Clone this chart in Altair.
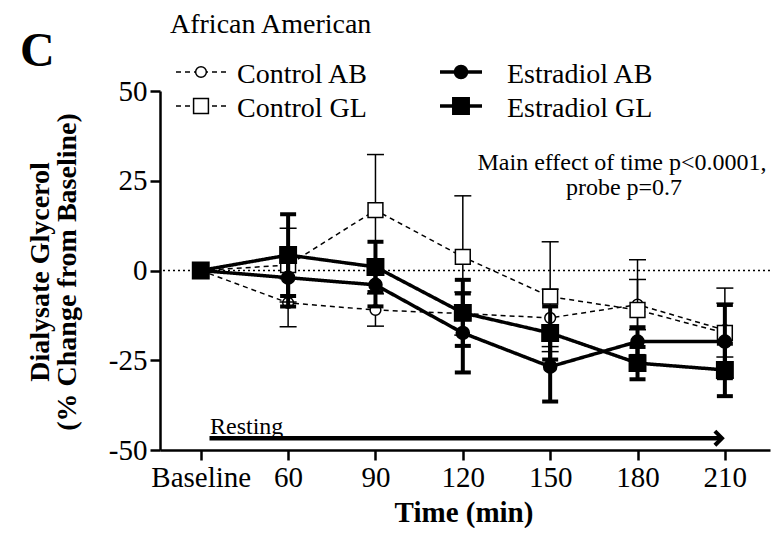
import altair as alt
import pandas as pd

FONT = "Liberation Serif"

# ---- data ----
times = [30, 60, 90, 120, 150, 180, 210]   # 30 == "Baseline"
series = ["Control AB", "Control GL", "Estradiol AB", "Estradiol GL"]

control_ab_mean = [0, -9, -11, -12, -13.2, -9.5, -16.6]
control_ab_err = [0, 6.7, 4.5, 6, 8, 7, 7.5]
control_gl_mean = [0, 1.5, 16.8, 3.8, -7.3, -11, -17.4]
control_gl_err = [0, 10.3, 15.5, 17, 15.3, 14, 12.5]
estradiol_ab_mean = [0, -2, -4, -17.4, -26.8, -19.8, -19.8]
estradiol_ab_err = [0, 8, 6, 11, 9.7, 4, 10.2]
estradiol_gl_mean = [0, 4.3, 1, -11.8, -17.4, -25.8, -27.7]
estradiol_gl_err = [0, 11.4, 7, 9.2, 7.4, 4.5, 7.3]

y_ticks = [-50, -25, 0, 25, 50]
arrow_span = [33, 208.5]
arrow_level = -46.7

means = [control_ab_mean, control_gl_mean, estradiol_ab_mean, estradiol_gl_mean]
errs = [control_ab_err, control_gl_err, estradiol_ab_err, estradiol_gl_err]

styles = {
    "Control AB": dict(shape="circle", size=115, fill="white", lw=1.5, dash=[5, 4], bw=1.5, capw=17, capt=1.5),
    "Control GL": dict(shape="square", size=220, fill="white", lw=1.5, dash=[5, 4], bw=1.5, capw=17, capt=1.5),
    "Estradiol AB": dict(shape="circle", size=170, fill="black", lw=3.5, dash=[1, 0], bw=4, capw=16, capt=4),
    "Estradiol GL": dict(shape="square", size=270, fill="black", lw=3.5, dash=[1, 0], bw=4, capw=16, capt=4),
}

xsc = alt.Scale(domain=[16, 225.5], nice=False, zero=False)
ysc = alt.Scale(domain=[-50, 50], nice=False, zero=False)
xax = alt.Axis(values=times, labelExpr="datum.value == 30 ? 'Baseline' : '' + datum.value",
               title=None, grid=False, tickSize=10, labelPadding=3, labelFontSize=29)
yax = alt.Axis(values=y_ticks, labelExpr="'' + datum.value", title=None, grid=False,
               tickSize=10, labelPadding=3, labelFontSize=29)

one = pd.DataFrame({"a": [0]})


def XE(f):
    return alt.X(f, type="quantitative", scale=xsc, axis=xax, title=None)


def YE(f):
    return alt.Y(f, type="quantitative", scale=ysc, axis=yax, title=None)


def series_layers(name, m, e):
    st = styles[name]
    df = pd.DataFrame({"t": times, "m": m, "e": e})
    df["lo"] = df["m"] - df["e"]
    df["hi"] = df["m"] + df["e"]
    dfe = df[df["e"] > 0]
    bars = alt.Chart(dfe).mark_rule(color="black", strokeWidth=st["bw"]).encode(
        x=XE("t"), y=YE("lo"), y2="hi:Q")
    cap_lo = alt.Chart(dfe).mark_tick(color="black", orient="horizontal", size=st["capw"],
                                      thickness=st["capt"], opacity=1).encode(x=XE("t"), y=YE("lo"))
    cap_hi = alt.Chart(dfe).mark_tick(color="black", orient="horizontal", size=st["capw"],
                                      thickness=st["capt"], opacity=1).encode(x=XE("t"), y=YE("hi"))
    line = alt.Chart(df).mark_line(color="black", strokeWidth=st["lw"], strokeDash=st["dash"]).encode(
        x=XE("t"), y=YE("m"))
    pts = alt.Chart(df).mark_point(shape=st["shape"], size=st["size"], filled=True, fill=st["fill"],
                                   stroke="black", strokeWidth=1.5, opacity=1).encode(x=XE("t"), y=YE("m"))
    return [bars, cap_lo, cap_hi, line, pts]


def txt(s, x, y, size, weight="normal", align="left", baseline="alphabetic", angle=0):
    return alt.Chart(one).mark_text(text=s, font=FONT, fontSize=size, fontWeight=weight, align=align,
                                    baseline=baseline, angle=angle, color="black").encode(
        x=alt.value(x), y=alt.value(y))


# page coords -> plot coords (plot origin at page 160,91)
def P(px, py):
    return px - 160, py - 91


zero = alt.Chart(one).mark_rule(color="black", strokeDash=[2, 3], strokeWidth=1.5).encode(
    y=alt.datum(0, scale=ysc, axis=yax))

layers = [zero]
for i in range(4):
    layers += series_layers(series[i], means[i], errs[i])

# arrow "Resting"
arrow = alt.Chart(one).mark_rule(color="black", strokeWidth=4.5).encode(
    x=alt.datum(arrow_span[0], scale=xsc, axis=xax), x2=alt.datum(arrow_span[1]),
    y=alt.datum(arrow_level, scale=ysc, axis=yax))
head = alt.Chart(one).mark_point(shape="M -1 -1 L 0 0 L -1 1", size=200, filled=False, color="black",
                                 strokeWidth=4, opacity=1).encode(
    x=alt.datum(arrow_span[1] + 0.5, scale=xsc, axis=xax), y=alt.datum(arrow_level, scale=ysc, axis=yax))
layers += [arrow, head]

# texts
layers.append(txt("Resting", *P(210, 434), 24))
layers.append(txt("C", *P(20, 66), 48, weight="bold"))
layers.append(txt("African American", *P(170, 33), 28))
layers.append(txt("Main effect of time p<0.0001,", *P(622, 170), 24, align="center"))
layers.append(txt("probe p=0.7", *P(624, 195), 24, align="center"))
layers.append(txt("Time (min)", *P(464, 513), 29, weight="bold", align="center", baseline="middle"))
layers.append(txt("Dialysate Glycerol", *P(41, 272), 28, weight="bold", align="center",
                  baseline="middle", angle=270))
layers.append(txt("(% Change from Baseline)", *P(68, 272), 28, weight="bold", align="center",
                  baseline="middle", angle=270))

# legend
leg = [("Control AB", 176, 226, 201, 237, 72), ("Control GL", 176, 226, 201, 237, 106),
       ("Estradiol AB", 440, 482, 461, 507, 72), ("Estradiol GL", 440, 482, 461, 507, 106)]
for name, x1, x2, xc, xt, yc in leg:
    st = styles[name]
    a1, b1 = P(x1, yc)
    a2, _ = P(x2, yc)
    ac, _ = P(xc, yc)
    at, bt = P(xt, yc + 11)
    layers.append(alt.Chart(one).mark_rule(color="black", strokeWidth=st["lw"], strokeDash=st["dash"]).encode(
        x=alt.value(a1), x2=alt.value(a2), y=alt.value(b1)))
    layers.append(alt.Chart(one).mark_point(shape=st["shape"], size=st["size"], filled=True, fill=st["fill"],
                                            stroke="black", strokeWidth=1.5, opacity=1).encode(
        x=alt.value(ac), y=alt.value(b1)))
    layers.append(txt(name, at, bt, 28))

chart = alt.layer(*layers).properties(
    width=610, height=359,
    padding={"left": 152, "top": 83, "right": 6, "bottom": 78},
    autosize=alt.AutoSizeParams(type="none"),
).configure_view(stroke=None).configure_axis(
    labelFont=FONT, labelColor="black", domainColor="black", tickColor="black",
    domainWidth=2.5, tickWidth=2.5,
)

chart.save("out.html", embed_options={"renderer": "svg", "actions": False})
